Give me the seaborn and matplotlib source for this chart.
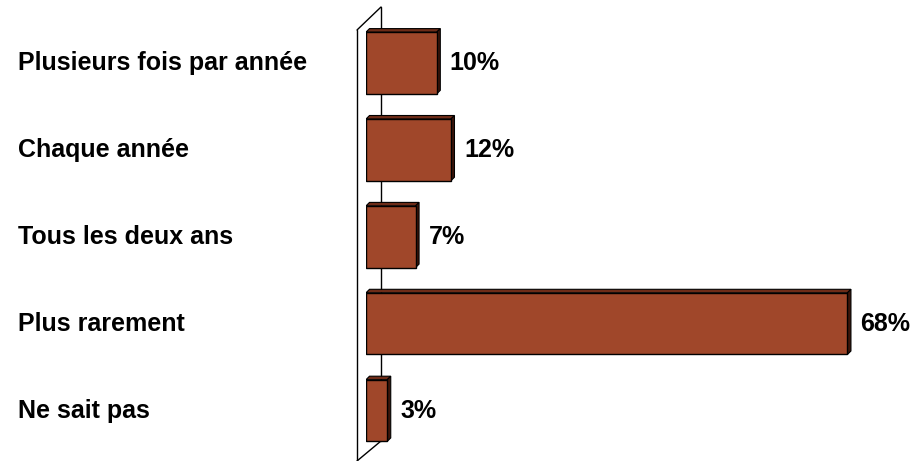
import matplotlib
matplotlib.use("Agg")
import matplotlib.pyplot as plt
import matplotlib.transforms as mtransforms
from matplotlib.patches import Polygon
import seaborn as sns
import pandas as pd

categories = ["Plusieurs fois par année", "Chaque année", "Tous les deux ans", "Plus rarement", "Ne sait pas"]
values = [10, 12, 7, 68, 3]
value_labels = ["10%", "12%", "7%", "68%", "3%"]

sns.set_theme(style="white")
plt.rcParams['font.family'] = ['Liberation Sans', 'DejaVu Sans']

W, H = 915, 461
fig = plt.figure(figsize=(W / 100, H / 100), dpi=100)
ax = fig.add_axes([366 / W, (H - 454) / H, (W - 366) / W, (454 - 19.5) / H])

df = pd.DataFrame({"cat": categories, "val": values})
sns.barplot(data=df, x="val", y="cat", orient="h", color="#A0472A", saturation=1,
            width=0.71, edgecolor="black", linewidth=1.0, ax=ax, zorder=3)

ax.set_xlim(0, (W - 366) / 7.08)
ax.set_ylim(4.5, -0.5)
ax.axis("off")

# 3D faces on the bars (offset in pixels)
dx_px, dy_px = 3.5, 3.5
for bar in ax.patches[:len(values)]:
    x0, y0 = bar.get_x(), bar.get_y()
    w, h = bar.get_width(), bar.get_height()
    tl = ax.transData.transform((x0, y0))
    tr = ax.transData.transform((x0 + w, y0))
    br = ax.transData.transform((x0 + w, y0 + h))
    inv = ax.transData.inverted()
    def off(p):
        return inv.transform((p[0] + dx_px, p[1] + dy_px))
    top = [inv.transform(tl), inv.transform(tr), off(tr), off(tl)]
    side = [inv.transform(tr), inv.transform(br), off(br), off(tr)]
    ax.add_patch(Polygon(top, closed=True, facecolor="#6E2C18", edgecolor="black", lw=0.8, zorder=2))
    ax.add_patch(Polygon(side, closed=True, facecolor="#3E160A", edgecolor="black", lw=0.8, zorder=2))

# back wall (decoration) in figure pixel coords
def fpt(x, y):
    return (x / W, (H - y) / H)
wall_kw = dict(color="black", lw=1.0, transform=fig.transFigure, zorder=0)
for (xa, ya), (xb, yb) in [((357, 30), (357, 461)), ((357, 30), (381, 7)),
                           ((381, 7), (381, 441)), ((357, 461), (381, 441))]:
    a, b = fpt(xa, ya), fpt(xb, yb)
    fig.add_artist(plt.Line2D([a[0], b[0]], [a[1], b[1]], **wall_kw))
ax.set_zorder(1)
ax.patch.set_alpha(0)

# category labels
blend = mtransforms.blended_transform_factory(fig.transFigure, ax.transData)
for i, c in enumerate(categories):
    ax.text(18 / W, i, c, transform=blend, ha="left", va="center",
            fontsize=18, fontweight="bold", color="black")

# value labels
for i, (v, lab) in enumerate(zip(values, value_labels)):
    ax.annotate(lab, (v, i), xytext=(13, 0), textcoords="offset pixels",
                ha="left", va="center", fontsize=18, fontweight="bold", color="black")

fig.savefig("out.png", dpi=100)
